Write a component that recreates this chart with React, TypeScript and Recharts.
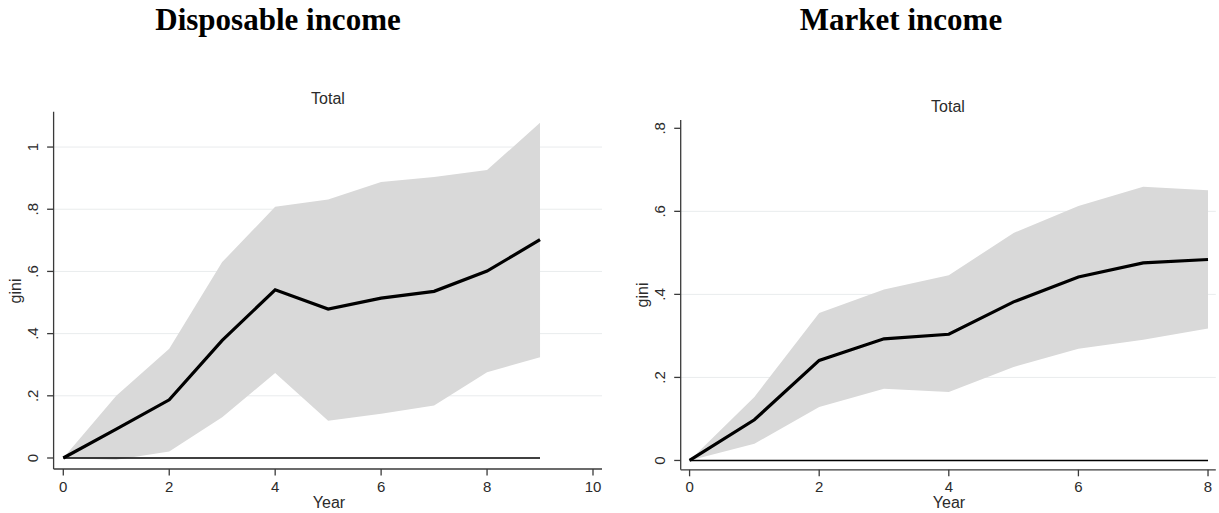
import React from "react";
import { ComposedChart, Area, Line, XAxis, YAxis, CartesianGrid, ReferenceLine } from "recharts";

// Disposable income panel
const dispYears = [0, 1, 2, 3, 4, 5, 6, 7, 8, 9];
const dispGini = [0, 0.093, 0.187, 0.378, 0.541, 0.479, 0.514, 0.536, 0.601, 0.702];
const dispUpper = [0, 0.2, 0.351, 0.63, 0.808, 0.831, 0.888, 0.904, 0.926, 1.078];
const dispLower = [0, -0.006, 0.021, 0.131, 0.273, 0.12, 0.142, 0.169, 0.276, 0.324];
const dispXTicks = [0, 2, 4, 6, 8, 10];
const dispYTicks = [0, 0.2, 0.4, 0.6, 0.8, 1];

// Market income panel
const mktYears = [0, 1, 2, 3, 4, 5, 6, 7, 8];
const mktGini = [0, 0.098, 0.241, 0.293, 0.304, 0.382, 0.442, 0.476, 0.484];
const mktUpper = [0, 0.153, 0.355, 0.412, 0.446, 0.548, 0.613, 0.659, 0.651];
const mktLower = [0, 0.04, 0.129, 0.173, 0.165, 0.225, 0.269, 0.291, 0.318];
const mktXTicks = [0, 2, 4, 6, 8];
const mktYTicks = [0, 0.2, 0.4, 0.6, 0.8];

const SANS = '"Liberation Sans", Arial, Helvetica, sans-serif';
const SERIF = '"Liberation Serif", "Times New Roman", serif';
const TXT = "#2b2b2b";

const fmtY = (v: number) => (v === 0 ? "0" : v === 1 ? "1" : String(v).replace(/^0/, ""));

const renderXTick = (p: any) => (
  <text
    key={`x-${p.payload.value}`}
    x={p.x}
    y={p.y + 14}
    textAnchor="middle"
    style={{ fontFamily: SANS, fontSize: 15, fill: TXT }}
  >
    {p.payload.value}
  </text>
);

const renderYTick = (p: any) => (
  <text
    key={`y-${p.payload.value}`}
    transform={`translate(${p.x - 7.5},${p.y}) rotate(-90)`}
    textAnchor="middle"
    style={{ fontFamily: SANS, fontSize: 15, fill: TXT }}
  >
    {fmtY(p.payload.value)}
  </text>
);

function Panel({ years, gini, upper, lower, xTicks, yTicks, xDomain, yDomain, grid, width, margin }: any) {
  const data = years.map((yr: number, i: number) => ({
    year: yr,
    gini: gini[i],
    band: [lower[i], upper[i]],
  }));
  return (
    <ComposedChart width={width} height={513} data={data} margin={margin}>
      <CartesianGrid horizontal vertical={false} horizontalValues={grid} stroke="#e9eced" strokeWidth={1} />
      <XAxis
        dataKey="year"
        type="number"
        domain={xDomain}
        ticks={xTicks}
        allowDataOverflow
        height={40}
        tickSize={6.5}
        tick={renderXTick}
        stroke="#3a3a3a"
        strokeWidth={1.3}
        interval={0}
      />
      <YAxis
        type="number"
        domain={yDomain}
        ticks={yTicks}
        allowDataOverflow
        width={40}
        tickSize={6.5}
        tick={renderYTick}
        stroke="#3a3a3a"
        strokeWidth={1.3}
        interval={0}
      />
      <Area
        dataKey="band"
        type="linear"
        stroke="none"
        fill="#d9d9d9"
        fillOpacity={1}
        isAnimationActive={false}
      />
      <ReferenceLine
        segment={[
          { x: years[0], y: 0 },
          { x: years[years.length - 1], y: 0 },
        ]}
        stroke="#000"
        strokeWidth={1.6}
      />
      <Line
        dataKey="gini"
        type="linear"
        stroke="#000"
        strokeWidth={3.2}
        dot={false}
        isAnimationActive={false}
      />
    </ComposedChart>
  );
}

export default function App() {
  return (
    <div style={{ position: "absolute", left: 0, top: 0, width: 1219, height: 513, background: "#fff" }}>
      <div
        style={{
          position: "absolute",
          left: 0,
          top: 0,
          width: 1219,
          height: 40,
          fontFamily: SERIF,
          fontWeight: "bold",
          fontSize: 31,
        }}
      >
        <span style={{ position: "absolute", left: 278, top: 2, transform: "translateX(-50%)", whiteSpace: "nowrap" }}>
          Disposable income
        </span>
        <span style={{ position: "absolute", left: 901, top: 2, transform: "translateX(-50%)", whiteSpace: "nowrap" }}>
          Market income
        </span>
      </div>

      <div style={{ position: "absolute", left: 0, top: 0 }}>
        <Panel
          years={dispYears}
          gini={dispGini}
          upper={dispUpper}
          lower={dispLower}
          xTicks={dispXTicks}
          yTicks={dispYTicks}
          grid={[0.2, 0.4, 0.6, 0.8, 1]}
          xDomain={[-0.183, 10.17]}
          yDomain={[-0.0354, 1.1137]}
          width={610}
          margin={{ top: 111.7, right: 8, bottom: 4, left: 13.6 }}
        />
      </div>
      <div style={{ position: "absolute", left: 610, top: 0 }}>
        <Panel
          years={mktYears}
          gini={mktGini}
          upper={mktUpper}
          lower={mktLower}
          xTicks={mktXTicks}
          yTicks={mktYTicks}
          grid={[0.2, 0.4, 0.6]}
          xDomain={[-0.137, 8.12]}
          yDomain={[-0.0225, 0.82]}
          width={609}
          margin={{ top: 120, right: 3.2, bottom: 3.2, left: 30.7 }}
        />
      </div>

      <svg width={1219} height={513} style={{ position: "absolute", left: 0, top: 0, pointerEvents: "none" }}>
        <g fontFamily={SANS} fontSize={16} fill={TXT}>
          <text x={328} y={104} textAnchor="middle">Total</text>
          <text x={329} y={508} textAnchor="middle">Year</text>
          <text transform="translate(21,291) rotate(-90)" textAnchor="middle">gini</text>
          <text x={948} y={112} textAnchor="middle">Total</text>
          <text x={949} y={508} textAnchor="middle">Year</text>
          <text transform="translate(648,295) rotate(-90)" textAnchor="middle">gini</text>
        </g>
      </svg>
    </div>
  );
}
